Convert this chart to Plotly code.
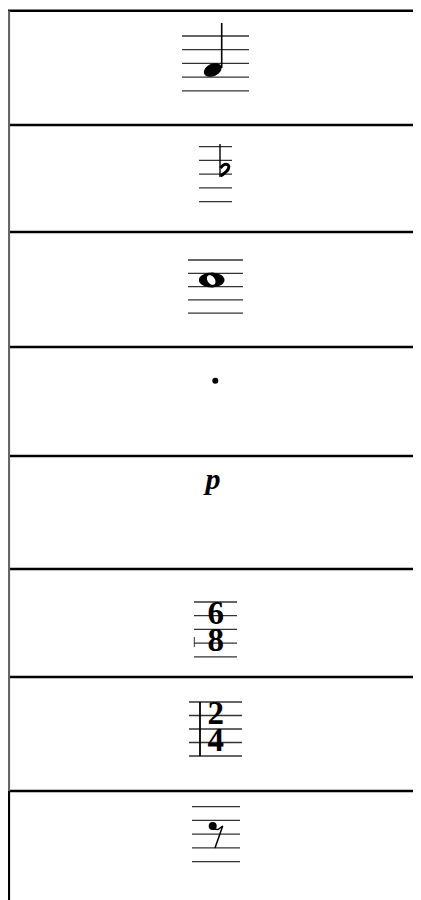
import numpy as np
import plotly.graph_objects as go

# --- table rows (one symbol per row) ---
rows = ["quarter note", "flat", "whole note", "dot", "piano", "6/8 time", "2/4 time", "eighth rest"]
row_edges = [10.7, 125, 232, 347, 456, 569, 677, 791]

# staff (5 lines) per row: top line, line gap, left / right end (None = no staff)
staff_top = [36, 146.7, 260, None, None, 602, 702, 806.7]
staff_gap = [13.7, 13.75, 13.3, None, None, 13.7, 13.5, 13.75]
staff_x0 = [182, 199, 188, None, None, 194, 189, 192]
staff_x1 = [249, 232, 243, None, None, 237, 242, 240]

# time signature digits
time_sig_top = ["6", "2"]
time_sig_bottom = ["8", "4"]
time_sig_x = [215.7, 215.7]
time_sig_y = [[616, 643], [716, 743]]

W, H = 421, 900
OFF = 8  # page body margin
TABLE_X = 9.0


def ellipse_path(cx, cy, rx, ry, ang):
    t = np.linspace(0, 2 * np.pi, 60)
    a = np.radians(ang)
    xs = cx + rx * np.cos(t) * np.cos(a) - ry * np.sin(t) * np.sin(a)
    ys = cy + rx * np.cos(t) * np.sin(a) + ry * np.sin(t) * np.cos(a)
    return "M " + " L ".join(f"{x:.2f},{y:.2f}" for x, y in zip(xs, ys)) + " Z"


fig = go.Figure()

# table rules
for y in row_edges:
    fig.add_trace(go.Scatter(x=[OFF, W + OFF], y=[y, y], mode="lines",
                             line=dict(color="black", width=2.5), hoverinfo="skip"))
fig.add_trace(go.Scatter(x=[TABLE_X, TABLE_X], y=[row_edges[0], row_edges[-1]], mode="lines",
                         line=dict(color="#666666", width=2.2), hoverinfo="skip"))
fig.add_trace(go.Scatter(x=[TABLE_X, TABLE_X], y=[row_edges[-1], H + OFF], mode="lines",
                         line=dict(color="black", width=2.2), hoverinfo="skip"))

# staves
for top, gap, x0, x1 in zip(staff_top, staff_gap, staff_x0, staff_x1):
    if top is None:
        continue
    xs, ys = [], []
    for k in range(5):
        y = top + k * gap
        xs += [x0, x1, None]
        ys += [y, y, None]
    fig.add_trace(go.Scatter(x=xs, y=ys, mode="lines",
                             line=dict(color="#333333", width=1.3), hoverinfo="skip"))

# row 1: quarter note
fig.add_shape(type="path", path=ellipse_path(212.7, 70, 9.3, 6.2, -25),
              xref="x", yref="y", fillcolor="black", line=dict(width=0))
fig.add_trace(go.Scatter(x=[221.7, 221.7], y=[23, 68], mode="lines",
                         line=dict(color="black", width=1.6), hoverinfo="skip"))

# row 2: flat (stem + bowl)
fig.add_trace(go.Scatter(x=[220, 220], y=[144, 177], mode="lines",
                         line=dict(color="black", width=1.4), hoverinfo="skip"))
fig.add_trace(go.Scatter(x=[220.5, 224.5, 228.5, 228, 224, 220.5],
                         y=[168, 164.5, 165.5, 169.5, 173.5, 176],
                         mode="lines", line=dict(color="black", width=3, shape="spline"),
                         hoverinfo="skip"))

# row 3: whole note
fig.add_shape(type="path", path=ellipse_path(211.7, 280, 12.8, 7.4, 0),
              xref="x", yref="y", fillcolor="black", line=dict(width=0))
fig.add_shape(type="path", path=ellipse_path(211.2, 280, 5.4, 3.6, 55),
              xref="x", yref="y", fillcolor="white", line=dict(width=0))

# row 4: dot
fig.add_trace(go.Scatter(x=[215.3], y=[380.7], mode="markers",
                         marker=dict(color="black", size=6), hoverinfo="skip"))

# row 5: p (piano)
fig.add_trace(go.Scatter(x=[213], y=[481], mode="text", text=["p"],
                         textfont=dict(family="Liberation Serif", size=30, color="black",
                                       style="italic", weight="bold"),
                         hoverinfo="skip"))

# rows 6 & 7: time signatures
for top, bot, x, (y1, y2) in zip(time_sig_top, time_sig_bottom, time_sig_x, time_sig_y):
    fig.add_trace(go.Scatter(x=[x, x], y=[y1, y2], mode="text", text=[top, bot],
                             textfont=dict(family="Liberation Serif", size=33, color="black",
                                           weight="bold"),
                             hoverinfo="skip"))
fig.add_trace(go.Scatter(x=[194.3, 194.3], y=[637, 647], mode="lines",
                         line=dict(color="#333333", width=1), hoverinfo="skip"))
fig.add_trace(go.Scatter(x=[200, 200], y=[702, 756], mode="lines",
                         line=dict(color="black", width=1.8), hoverinfo="skip"))

# row 8: eighth rest
fig.add_trace(go.Scatter(x=[212.7], y=[826], mode="markers",
                         marker=dict(color="black", size=8), hoverinfo="skip"))
fig.add_trace(go.Scatter(x=[213, 218, 222.7, 215], y=[829, 829.5, 826, 848], mode="lines",
                         line=dict(color="black", width=1.5), hoverinfo="skip"))

fig.update_layout(
    width=W, height=H, showlegend=False, template=None,
    paper_bgcolor="white", plot_bgcolor="white",
    margin=dict(l=0, r=0, t=0, b=0),
)
# the page body adds an 8px margin, so the axes start 8px in to keep pixel positions
fig.update_xaxes(range=[OFF, W + OFF], visible=False)
fig.update_yaxes(range=[H + OFF, OFF], visible=False)

fig.write_html("out.html")
